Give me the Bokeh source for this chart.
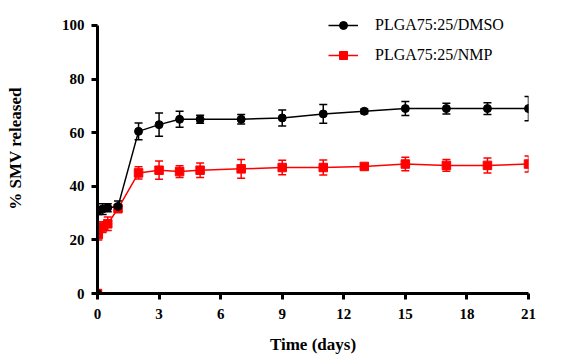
from bokeh.plotting import figure
from bokeh.models import Whisker, ColumnDataSource, Legend, LegendItem, FixedTicker, TeeHead
from bokeh.embed import file_html
from bokeh.resources import INLINE

time = [0, 0.04, 0.25, 0.5, 1, 2, 3, 4, 5, 7, 9, 11, 13, 15, 17, 19, 21]
dmso = [0, 31, 31.5, 32, 32.5, 60.5, 63, 65, 65, 65, 65.5, 67, 68, 69, 69, 69, 69]
dmso_err = [0, 1.5, 2, 1.5, 2, 3.1, 4.3, 3, 1.5, 1.8, 3, 3.5, 0.8, 2.6, 2, 2.2, 4.5]
nmp = [0, 22, 24.8, 26, 31.7, 45, 46, 45.5, 46, 46.5, 47, 47, 47.4, 48.3, 47.8, 47.8, 48.3]
nmp_err = [0, 2, 2, 2.5, 1.5, 2.3, 3.4, 2.2, 2.7, 3.5, 2.7, 2.8, 1, 2.5, 2.2, 2.8, 3]
series_names = ["PLGA75:25/DMSO", "PLGA75:25/NMP"]
x_ticks = [0, 3, 6, 9, 12, 15, 18, 21]
y_ticks = [0, 20, 40, 60, 80, 100]

FONT = "Liberation Serif"

p = figure(width=570, height=358, output_backend="svg", toolbar_location=None,
           x_range=(0, 21), y_range=(0, 108.2),
           min_border_left=97, min_border_right=42, min_border_top=3, min_border_bottom=65)
p.outline_line_color = None
p.xgrid.visible = False
p.ygrid.visible = False
p.background_fill_color = "white"
p.border_fill_color = "white"

for ax in (p.xaxis[0], p.yaxis[0]):
    ax.axis_line_width = 3
    ax.axis_line_color = "black"
    ax.major_tick_line_width = 3
    ax.major_tick_line_color = "black"
    ax.major_tick_out = 6
    ax.major_tick_in = 0
    ax.minor_tick_line_color = None
    ax.major_label_text_font = FONT
    ax.major_label_text_font_style = "bold"
    ax.major_label_text_font_size = "15px"
    ax.major_label_text_color = "black"
    ax.axis_label_text_font = FONT
    ax.axis_label_text_font_style = "bold"
    ax.axis_label_text_font_size = "17px"
    ax.axis_label_text_color = "black"

p.yaxis.bounds = (0, 100)
p.xaxis.ticker = FixedTicker(ticks=x_ticks)
p.yaxis.ticker = FixedTicker(ticks=y_ticks)
p.xaxis.axis_label = "Time (days)"
p.yaxis.axis_label = "% SMV released"
p.xaxis.major_label_standoff = 9
p.yaxis.major_label_standoff = 7
p.xaxis.axis_label_standoff = 13
p.yaxis.axis_label_standoff = 34

items = []
for vals, errs, color, marker, name in [
    (nmp, nmp_err, "#ff0000", "square", series_names[1]),
    (dmso, dmso_err, "black", "circle", series_names[0]),
]:
    src = ColumnDataSource(dict(x=time, y=vals,
                                lo=[v - e for v, e in zip(vals, errs)],
                                hi=[v + e for v, e in zip(vals, errs)]))
    w = Whisker(source=src, base="x", upper="hi", lower="lo", dimension="height",
                line_color=color, line_width=1.5,
                upper_head=TeeHead(size=8, line_color=color, line_width=1.5),
                lower_head=TeeHead(size=8, line_color=color, line_width=1.5))
    p.add_layout(w)
    ln = p.line("x", "y", source=src, line_color=color, line_width=1.5)
    sc = p.scatter("x", "y", source=src, marker=marker, size=8 if marker == "circle" else 8.5,
                   fill_color=color, line_color=color)
    items.append(LegendItem(label=name, renderers=[ln, sc]))

legend = Legend(items=items[::-1], location=(231, 228),
                border_line_color=None, background_fill_alpha=0,
                label_text_font=FONT, label_text_font_size="16px", label_text_color="black",
                glyph_width=30, glyph_height=20, label_height=20, spacing=10,
                label_standoff=17, padding=5, margin=0)
p.add_layout(legend)

open("out.html", "w").write(file_html(p, INLINE))
